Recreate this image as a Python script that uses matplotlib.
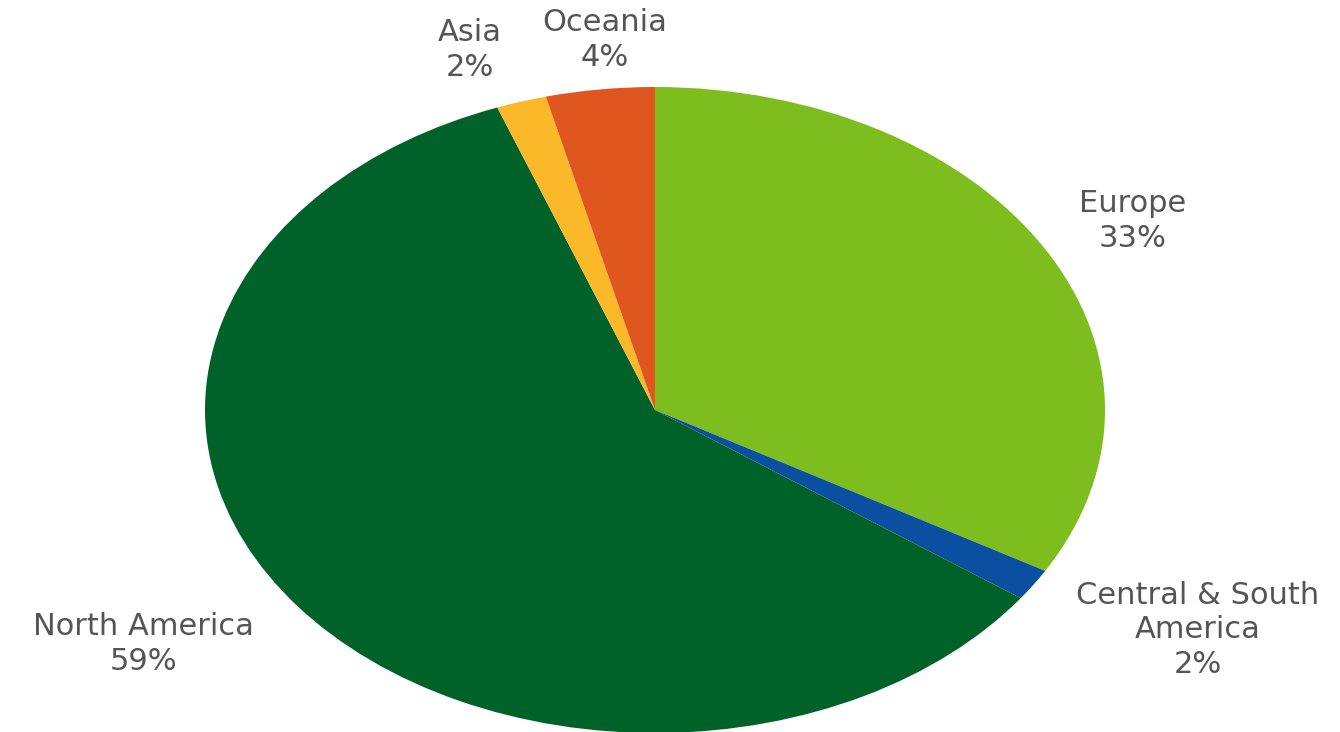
import matplotlib.pyplot as plt

regions = ["Europe", "Central & South\nAmerica", "North America", "Asia", "Oceania"]
shares = [33.3, 1.6, 59.4, 1.8, 3.9]
shown_pct = ["33%", "2%", "59%", "2%", "4%"]
colors = ["#7dbe1e", "#0b4fa0", "#006228", "#fbb829", "#e0561f"]

# label anchor points, in pixels from the top-left of the picture
label_px = [(1133, 221), (1198, 630), (143, 644), (470, 50), (605, 40)]

W, H = 1340, 732
fig = plt.figure(figsize=(W / 100, H / 100), dpi=100)

# pie drawn in a stretched axes so it becomes an ellipse (rx 450, ry 323)
cx, cy, rx, ry = 655, 410, 450, 323
ax = fig.add_axes([(cx - rx) / W, (H - cy - ry) / H, 2 * rx / W, 2 * ry / H])
ax.pie(shares, colors=colors, startangle=90, counterclock=False,
       wedgeprops=dict(linewidth=0))
ax.set_aspect("auto")
ax.set_xlim(-1, 1)
ax.set_ylim(-1, 1)
ax.axis("off")

for name, pct, (px, py) in zip(regions, shown_pct, label_px):
    fig.text(px / W, 1 - py / H, f"{name}\n{pct}", ha="center", va="center",
             fontsize=22, color="#555555", family="DejaVu Sans", linespacing=1.25)

fig.savefig("out.png", dpi=100)
